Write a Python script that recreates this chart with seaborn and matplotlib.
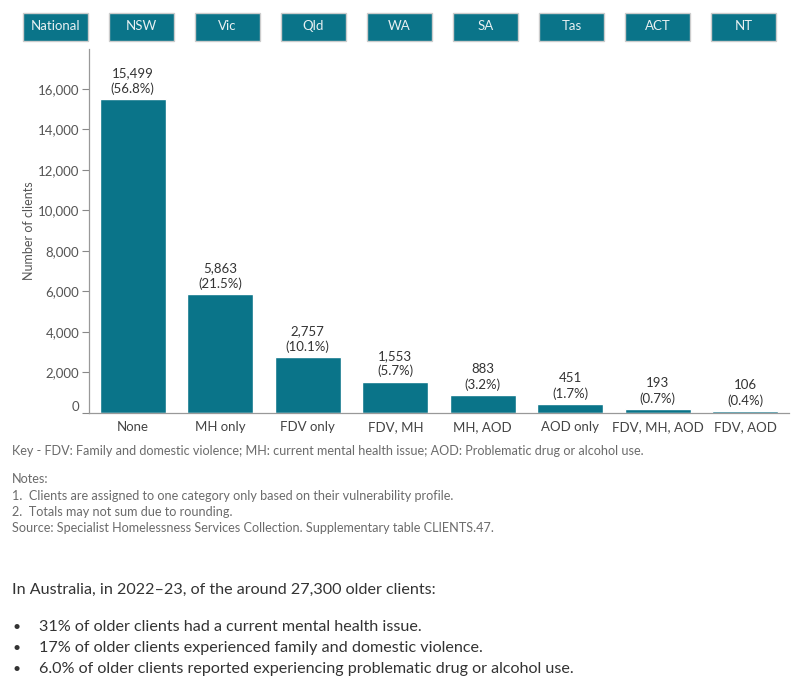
import matplotlib
matplotlib.use("Agg")
import matplotlib.pyplot as plt
from matplotlib.patches import Rectangle
import seaborn as sns
import pandas as pd

categories = ["None", "MH only", "FDV only", "FDV, MH", "MH, AOD", "AOD only", "FDV, MH, AOD", "FDV, AOD"]
clients = [15499, 5863, 2757, 1553, 883, 451, 193, 106]
percents = ["56.8%", "21.5%", "10.1%", "5.7%", "3.2%", "1.7%", "0.7%", "0.4%"]
buttons = ["National", "NSW", "Vic", "Qld", "WA", "SA", "Tas", "ACT", "NT"]
yticks = [0, 2000, 4000, 6000, 8000, 10000, 12000, 14000, 16000]

TEAL = "#0A7489"

sns.set_theme(style="white")
plt.rcParams["font.family"] = ["Lato", "DejaVu Sans"]

df = pd.DataFrame({"category": categories, "clients": clients})

fig = plt.figure(figsize=(8, 7), dpi=100)
ax = fig.add_axes([89/800, 1-413/700, 700/800, (413-49)/700])

sns.barplot(data=df, x="category", y="clients", color=TEAL, saturation=1,
            width=0.754, ax=ax, order=categories)

ax.set_ylim(0, 17975)
ax.set_xlim(-0.5, len(categories) - 0.5)
ax.set_yticks(yticks)
ax.set_yticklabels([f"{v:,}" for v in yticks], fontsize=9.5, color="#555555")
ax.set_xticks(range(len(categories)))
ax.set_xticklabels(categories, fontsize=9.5, color="#444444")
ax.set_xticks([i - 0.5 for i in range(len(categories) + 1)], minor=True)
ax.tick_params(axis="x", which="major", length=0, pad=6)
ax.tick_params(axis="x", which="minor", length=7, color="#999999", width=0.8)
ax.tick_params(axis="y", which="major", length=5, color="#888888", width=0.8, pad=2, left=True)
ax.yaxis.get_majorticklabels()[0].set_va("bottom")
ax.set_xlabel("")
ax.set_ylabel("Number of clients", fontsize=9, color="#555555", labelpad=2)
for s in ["top", "right"]:
    ax.spines[s].set_visible(False)
for s in ["left", "bottom"]:
    ax.spines[s].set_color("#999999")
    ax.spines[s].set_linewidth(0.9)

for i, (v, p) in enumerate(zip(clients, percents)):
    ax.annotate(f"{v:,}\n({p})", xy=(i, v), xytext=(0, 3), textcoords="offset points",
                ha="center", va="bottom", fontsize=9.5, color="#333333", linespacing=1.3)

# Buttons at top
for k, b in enumerate(buttons):
    x0 = 23 + 86 * k
    rect = Rectangle((x0/800, 1-41/700), 65/800, 28/700, transform=fig.transFigure,
                     facecolor=TEAL, edgecolor="#cccccc", linewidth=1)
    fig.patches.append(rect)
    fig.text((x0 + 32.5)/800, 1-26.5/700, b, ha="center", va="center",
             fontsize=9.5, color="#e8f0f2")

gray = "#6b6b6b"
fig.text(12/800, 1-451/700, "Key - FDV: Family and domestic violence; MH: current mental health issue; AOD: Problematic drug or alcohol use.",
         fontsize=9.1, color=gray, va="center")
notes = ["Notes:",
         "1.  Clients are assigned to one category only based on their vulnerability profile.",
         "2.  Totals may not sum due to rounding.",
         "Source: Specialist Homelessness Services Collection. Supplementary table CLIENTS.47."]
for j, t in enumerate(notes):
    fig.text(12/800, 1-(479 + 16.5*j)/700, t, fontsize=9.1, color=gray, va="center")

fig.text(12/800, 1-590/700, "In Australia, in 2022\u201323, of the around 27,300 older clients:",
         fontsize=11.6, color="#333333", va="center")
bullets = ["31% of older clients had a current mental health issue.",
           "17% of older clients experienced family and domestic violence.",
           "6.0% of older clients reported experiencing problematic drug or alcohol use."]
for j, t in enumerate(bullets):
    y = 1-(627 + 21*j)/700
    fig.text(12/800, y, "\u2022", fontsize=10, color="#333333", va="center")
    fig.text(39/800, y, t, fontsize=11.6, color="#333333", va="center")

fig.savefig("out.png", dpi=100)
